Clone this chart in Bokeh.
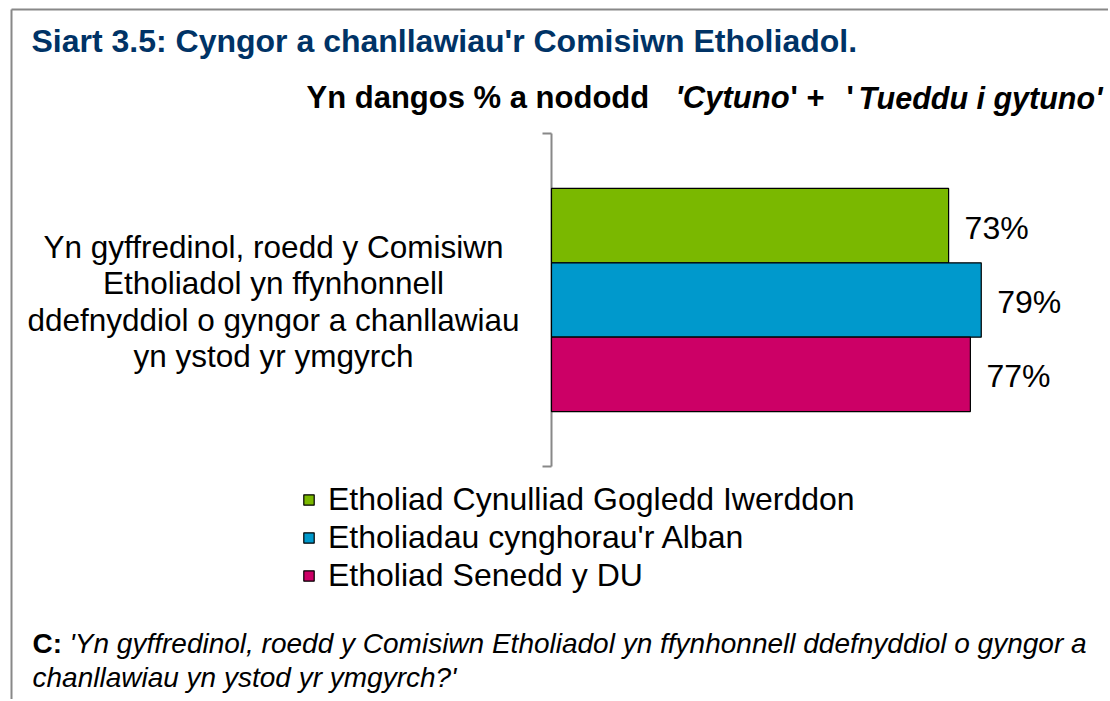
from bokeh.plotting import figure
from bokeh.models import Range1d, Label, Legend, LegendItem, ColumnDataSource
from bokeh.core.properties import value
from bokeh.embed import file_html
from bokeh.resources import INLINE

# ---------------- data ----------------
title_text = "Siart 3.5: Cyngor a chanllawiau'r Comisiwn Etholiadol."
subtitle_parts = ["Yn dangos % a nododd", "'Cytuno", "' +", "'", "Tueddu i gytuno'"]
subtitle_styles = ["bold", "bold italic", "bold", "bold", "bold italic"]
category = "Yn gyffredinol, roedd y Comisiwn\nEtholiadol yn ffynhonnell\nddefnyddiol o gyngor a chanllawiau\nyn ystod yr ymgyrch"
series = ["Etholiad Cynulliad Gogledd Iwerddon", "Etholiadau cynghorau'r Alban", "Etholiad Senedd y DU"]
values = [73, 79, 77]
colors = ["#7AB800", "#0099CC", "#CC0066"]
question_label = "C:"
question_lines = ["'Yn gyffredinol, roedd y Comisiwn Etholiadol yn ffynhonnell ddefnyddiol o gyngor a",
                  "chanllawiau yn ystod yr ymgyrch?'"]

# ---------------- layout (page pixels) ----------------
FONT_NAME = "Liberation Sans"
W, H = 1108, 699
PAGE_X, PAGE_Y = 0, 0                   # canvas origin on picture
BAR_X0, BAR_W = 551, 544                # page x of value 0, px for 100 %
CAT_TOP, CAT_BOT = 133, 466             # page y of category band

def px_x(X):
    return (X - BAR_X0) / BAR_W * 100.0

def px_y(Y):
    return (CAT_BOT - Y) / (CAT_BOT - CAT_TOP)

p = figure(width=W, height=H, frame_width=W, frame_height=H,
           x_range=Range1d(px_x(PAGE_X), px_x(PAGE_X + W)),
           y_range=Range1d(px_y(PAGE_Y + H), px_y(PAGE_Y)),
           x_axis_type=None, y_axis_type=None,
           output_backend="svg", toolbar_location=None,
           min_border=0, min_border_left=0, min_border_right=0,
           min_border_top=0, min_border_bottom=0)
p.outline_line_color = None

# outer border (top and left)
p.segment(x0=[px_x(11), px_x(11)], y0=[px_y(9), px_y(9)],
          x1=[px_x(1112), px_x(11)], y1=[px_y(9), px_y(705)],
          line_color="#888888", line_width=2)

# category axis: line + boundary ticks
tick = 9 / BAR_W * 100
p.segment(x0=[0, -tick, -tick], y0=[0, 0, 1], x1=[0, 0, 0], y1=[1, 0, 1],
          line_color="#888888", line_width=2)

n = len(series)
bar_h = 0.2233
ypos = [0.5 + ((n - 1) / 2 - i) * bar_h for i in range(n)]
src = ColumnDataSource(dict(y=ypos, v=values, c=colors, s=series,
                            lab=[f"{v}%" for v in values]))
bars = p.hbar(y="y", left=0, right="v", height=bar_h, source=src,
              fill_color="c", line_color="black", line_width=1.2)
p.text(x="v", y="y", text="lab", source=src, x_offset=16, y_offset=2,
       text_baseline="middle", text_align="left",
       text_font=value(FONT_NAME), text_font_size="32px", text_color="black")

legend = Legend(items=[LegendItem(label=s, renderers=[bars], index=i) for i, s in enumerate(series)],
                location=(302 - PAGE_X, PAGE_Y + H - 594),
                glyph_width=13, glyph_height=13, label_standoff=13, spacing=1,
                padding=0, margin=0, border_line_color=None, background_fill_alpha=0,
                label_text_font=FONT_NAME, label_text_font_size="32px", label_text_color="black")
p.add_layout(legend, "center")

# title
p.add_layout(Label(x=px_x(31), y=px_y(40), text=title_text, text_font=FONT_NAME,
                   text_font_size="32px", text_font_style="bold", text_color="#003366",
                   text_baseline="middle"))
# subtitle
for t, st, X, fs in zip(subtitle_parts, subtitle_styles, [306, 675, 790, 846, 858],
                        ["31px", "31px", "31px", "31px", "30.5px"]):
    p.add_layout(Label(x=px_x(X), y=px_y(97), text=t, text_font=FONT_NAME,
                       text_font_size=fs, text_font_style=st, text_color="black",
                       text_baseline="middle"))
# category label
for k, line in enumerate(category.split("\n")):
    p.add_layout(Label(x=px_x(273), y=px_y(246 + 36.5 * k), text=line, text_font=FONT_NAME,
                       text_font_size="31.5px", text_color="black",
                       text_align="center", text_baseline="middle"))
# question
p.add_layout(Label(x=px_x(32), y=px_y(643), text=question_label, text_font=FONT_NAME,
                   text_font_size="28px", text_font_style="bold", text_color="black",
                   text_baseline="middle"))
p.add_layout(Label(x=px_x(69), y=px_y(643), text=question_lines[0], text_font=FONT_NAME,
                   text_font_size="28px", text_font_style="italic", text_color="black",
                   text_baseline="middle"))
p.add_layout(Label(x=px_x(32), y=px_y(677), text=question_lines[1], text_font=FONT_NAME,
                   text_font_size="28px", text_font_style="italic", text_color="black",
                   text_baseline="middle"))

open("out.html", "w").write(file_html(p, INLINE))
